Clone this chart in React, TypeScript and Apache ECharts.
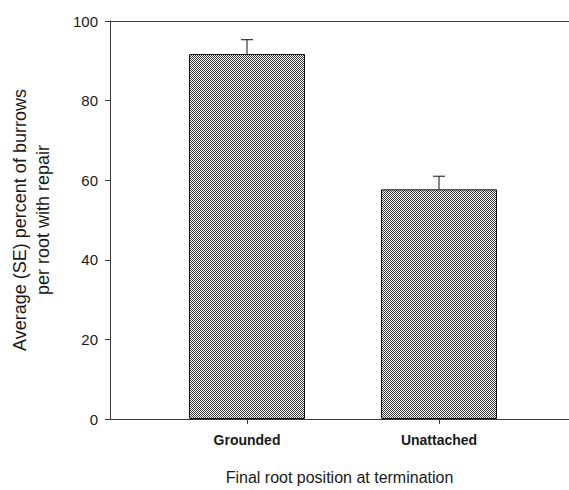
import React, { useEffect, useRef } from "react";
import * as echarts from "echarts";

const categories = ["Grounded", "Unattached"];
const categoryPositions = [1, 2];
const means = [91.7, 57.7];
const standardErrors = [3.6, 3.3];
const yTickStep = 20;
const yMin = 0;
const yMax = 100;
const xTitle = "Final root position at termination";
const yTitle = "Average (SE) percent of burrows\nper root with repair";

function makePattern(): HTMLCanvasElement {
  const c = document.createElement("canvas");
  c.width = 2;
  c.height = 2;
  const ctx = c.getContext("2d")!;
  ctx.fillStyle = "#ffffff";
  ctx.fillRect(0, 0, 2, 2);
  ctx.fillStyle = "#3a3a3a";
  ctx.fillRect(0, 0, 1, 1);
  ctx.fillRect(1, 1, 1, 1);
  return c;
}

export default function App() {
  const ref = useRef<HTMLDivElement>(null);
  useEffect(() => {
    if (!ref.current) return;
    const chart = echarts.init(ref.current, undefined, { renderer: "svg" });
    const font = "'Liberation Sans', Arial, Helvetica, sans-serif";
    const xMin = 0.2865;
    const xMax = 2.677;
    const axisColor = "#3a3a3a";
    chart.setOption({
      animation: false,
      backgroundColor: "#ffffff",
      textStyle: { fontFamily: font },
      grid: { left: 110, right: 0, top: 21, bottom: 66, containLabel: false },
      xAxis: [
        {
          type: "value",
          min: xMin,
          max: xMax,
          position: "bottom",
          axisLine: { show: true, lineStyle: { color: axisColor, width: 1 } },
          axisTick: {
            show: true,
            customValues: categoryPositions,
            length: 5,
            lineStyle: { color: axisColor },
          },
          axisLabel: {
            show: true,
            customValues: categoryPositions,
            formatter: (v: number) => {
              const i = categoryPositions.indexOf(Math.round(v));
              return i >= 0 ? categories[i] : "";
            },
            fontSize: 14,
            fontWeight: "bold",
            color: "#1a1a1a",
            margin: 14,
            fontFamily: font,
          },
          splitLine: { show: false },
          name: xTitle,
          nameLocation: "middle",
          nameGap: 50,
          nameTextStyle: { fontSize: 16, color: "#1a1a1a", fontFamily: font },
        },
        {
          type: "value",
          min: xMin,
          max: xMax,
          position: "top",
          axisLine: { show: true, lineStyle: { color: axisColor, width: 1 } },
          axisTick: { show: false },
          axisLabel: { show: false },
          splitLine: { show: false },
        },
      ],
      yAxis: {
        type: "value",
        min: yMin,
        max: yMax,
        interval: yTickStep,
        axisLine: { show: true, lineStyle: { color: axisColor, width: 1 } },
        axisTick: { show: true, length: 5, lineStyle: { color: axisColor } },
        axisLabel: {
          fontSize: 15,
          color: "#1a1a1a",
          margin: 12,
          fontFamily: font,
        },
        splitLine: { show: false },
        name: yTitle,
        nameLocation: "middle",
        nameGap: 56,
        nameTextStyle: {
          fontSize: 18,
          lineHeight: 23,
          color: "#1a1a1a",
          align: "center",
          fontFamily: font,
        },
      },
      series: [
        {
          type: "bar",
          xAxisIndex: 0,
          data: categoryPositions.map((x, i) => [x, means[i]]),
          barWidth: 116,
          itemStyle: {
            color: { image: makePattern(), repeat: "repeat" },
            borderColor: "#111",
            borderWidth: 1,
          },
        },
        {
          type: "custom",
          xAxisIndex: 0,
          data: categoryPositions.map((x, i) => [x, means[i], standardErrors[i]]),
          encode: { x: 0, y: 1 },
          z: 3,
          renderItem: (params: any, api: any) => {
            const x = api.value(0);
            const y = api.value(1);
            const e = api.value(2);
            const p0 = api.coord([x, y]);
            const p1 = api.coord([x, y + e]);
            const style = { stroke: "#111", lineWidth: 1 };
            return {
              type: "group",
              children: [
                { type: "line", shape: { x1: p0[0], y1: p0[1], x2: p1[0], y2: p1[1] }, style },
                { type: "line", shape: { x1: p1[0] - 6, y1: p1[1], x2: p1[0] + 6, y2: p1[1] }, style },
              ],
            };
          },
        },
      ],
    });
    return () => chart.dispose();
  }, []);
  return (
    <div
      ref={ref}
      style={{ position: "fixed", left: 0, top: 0, width: 569, height: 490, background: "#fff" }}
    />
  );
}
